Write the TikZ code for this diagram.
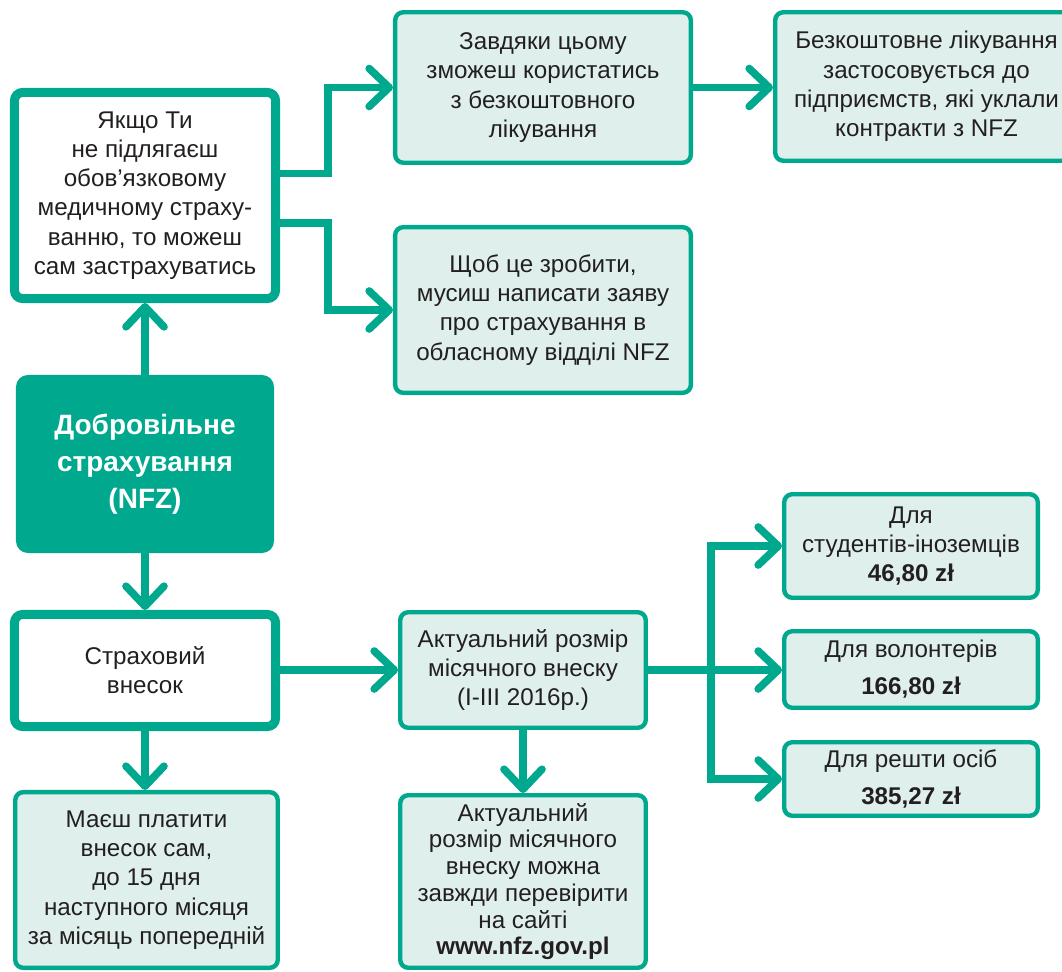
\documentclass[tikz,border=0pt]{standalone}
\usepackage{fontspec}
\setmainfont{Liberation Sans}
\usetikzlibrary{arrows.meta}
\definecolor{nfzgreen}{HTML}{00A88E}
\definecolor{nfzlight}{HTML}{DFF0EC}
\definecolor{nfztext}{HTML}{231F20}
\tikzset{%
    every box/.style={
      rectangle,
      draw=nfzgreen,
      rounded corners=0.2cm,
      align=center,
      inner sep=0pt,
      text=nfztext,
      font=\fontsize{17.2}{20.8}\selectfont
    },
    white box/.style={
      every box,
      fill=white,
      line width=0.225cm
    },
    info box/.style={
      every box,
      fill=nfzlight,
      line width=0.11cm
    },
    main box/.style={
      rectangle,
      fill=nfzgreen,
      rounded corners=0.3cm,
      align=center,
      inner sep=0pt,
      text=white,
      font=\fontsize{19.9}{26.3}\selectfont\bfseries
    },
    link/.style={
      draw=nfzgreen,
      line width=0.19cm,
      -{Straight Barb[length=0.5cm, width=0.95cm, round]}
    }
  }

\begin{document}
\begin{tikzpicture}[x=0.025cm, y=-0.025cm]
      \useasboundingbox (0,0) rectangle (1062,971);

      \node [white box, minimum width=6.525cm, minimum height=5.15cm] (self) at (145,195.5)
        {Якщо Ти\\не підлягаєш\\обов’язковому\\медичному страху-\\ванню, то можеш\\сам застрахуватись};
      \node [info box, minimum width=7.39cm, minimum height=3.76cm] (free) at (543,87.5)
        {Завдяки цьому\\зможеш користатись\\з безкоштовного\\лікування};
      \node [info box, minimum width=7.5625cm, minimum height=3.71cm] (clin) at (926.5,86.5)
        {Безкоштовне лікування\\застосовується до\\підприємств, які уклали\\контракти з NFZ};
      \node [info box, minimum width=7.39cm, minimum height=4.14cm] (apply) at (543,310)
        {Щоб це зробити,\\мусиш написати заяву\\про страхування в\\обласному відділі NFZ};

      \node [main box, minimum width=6.45cm, minimum height=4.45cm] (vol) at (145,464)
        {Добровільне\\страхування\\(NFZ)};

      \node [white box, minimum width=6.525cm, minimum height=2.8cm] (fee) at (145,670.5)
        {Страховий\\внесок};
      \node [info box, minimum width=6.5625cm, minimum height=4.39cm] (pay) at (146.5,880)
        {Маєш платити\\внесок сам,\\до 15 дня\\наступного місяця\\за місяць попередній};

      \node [info box, minimum width=6.1375cm, minimum height=2.8875cm] (rate) at (523,670)
        {Актуальний розмір\\місячного внеску\\(I-III 2016р.)};
      \node [info box, minimum width=6.1375cm, minimum height=4.3125cm,
             font=\fontsize{17.2}{19}\selectfont] (site) at (523,881.5)
        {Актуальний\\розмір місячного\\внеску можна\\завжди перевірити\\на сайті\\\textbf{www.nfz.gov.pl}};

      \node [info box, minimum width=6.3375cm, minimum height=2.5875cm] (stud) at (911,546)
        {Для\\студентів-іноземців\\\textbf{46,80 zł}};
      \node [info box, minimum width=6.3375cm, minimum height=1.9125cm] (volu) at (911,669.5)
        {Для волонтерів\\[5.5pt]\textbf{166,80 zł}};
      \node [info box, minimum width=6.3375cm, minimum height=1.8375cm] (rest) at (911,779)
        {Для решти осіб\\[5.5pt]\textbf{385,27 zł}};

      \coordinate (up) at ([yshift=0.55cm]self.east);
      \coordinate (down) at ([yshift=-0.68cm]self.east);
      \coordinate (fork) at (711,670);

      \draw [link] (up) -- ++(48,0) |- (free.west);
      \draw [link] (down) -- ++(48,0) |- (apply.west);
      \draw [link] (free.east) -- (free.east -| clin.west);

      \draw [link] (vol.north) -- (vol.north |- self.south);
      \draw [link] (vol.south) -- (vol.south |- fee.north);
      \draw [link] (fee.south) -- (fee.south |- pay.north);
      \draw [link] (fee.east |- rate) -- (rate.west);
      \draw [link] (rate.south) -- (site.north);

      \draw [link] (rate.east) -- (rate.east -| volu.west);
      \draw [link] (fork) |- (stud.west);
      \draw [link] (fork) |- (rest.west);
    \end{tikzpicture}
\end{document}
